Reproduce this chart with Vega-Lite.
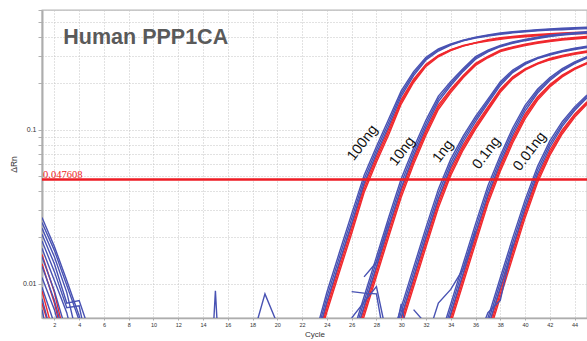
{
"$schema": "https://vega.github.io/schema/vega-lite/v6.json",
"width": 545, "height": 308,
"autosize": "none",
"padding": {"left": 42, "top": 10, "right": 0, "bottom": 23},
"background": "white",
"config": {"view": {"stroke": "#b8b8b8", "strokeWidth": 1.3}, "font": "Liberation Sans"},
"datasets": {
"curves": [
{"id":"100R1","g":"r","c":23,"v":0.0038},{"id":"100R1","g":"r","c":24,"v":0.0074},{"id":"100R1","g":"r","c":25,"v":0.01335},{"id":"100R1","g":"r","c":26,"v":0.0239},{"id":"100R1","g":"r","c":27,"v":0.0432},{"id":"100R1","g":"r","c":28,"v":0.0673},{"id":"100R1","g":"r","c":29,"v":0.1019},{"id":"100R1","g":"r","c":30,"v":0.157},{"id":"100R1","g":"r","c":31,"v":0.213},{"id":"100R1","g":"r","c":32,"v":0.267},{"id":"100R1","g":"r","c":33,"v":0.305},{"id":"100R1","g":"r","c":34,"v":0.332},{"id":"100R1","g":"r","c":35,"v":0.353},{"id":"100R1","g":"r","c":36,"v":0.368},{"id":"100R1","g":"r","c":37,"v":0.385},{"id":"100R1","g":"r","c":38,"v":0.396},{"id":"100R1","g":"r","c":39,"v":0.404},{"id":"100R1","g":"r","c":40,"v":0.411},{"id":"100R1","g":"r","c":41,"v":0.416},{"id":"100R1","g":"r","c":42,"v":0.421},{"id":"100R1","g":"r","c":43,"v":0.425},{"id":"100R1","g":"r","c":44,"v":0.429},{"id":"100R1","g":"r","c":45,"v":0.431},
{"id":"100R2","g":"r","c":23,"v":0.0036},{"id":"100R2","g":"r","c":24,"v":0.00697},{"id":"100R2","g":"r","c":25,"v":0.01258},{"id":"100R2","g":"r","c":26,"v":0.02253},{"id":"100R2","g":"r","c":27,"v":0.041},{"id":"100R2","g":"r","c":28,"v":0.0644},{"id":"100R2","g":"r","c":29,"v":0.0974},{"id":"100R2","g":"r","c":30,"v":0.152},{"id":"100R2","g":"r","c":31,"v":0.208},{"id":"100R2","g":"r","c":32,"v":0.263},{"id":"100R2","g":"r","c":33,"v":0.302},{"id":"100R2","g":"r","c":34,"v":0.33},{"id":"100R2","g":"r","c":35,"v":0.351},{"id":"100R2","g":"r","c":36,"v":0.367},{"id":"100R2","g":"r","c":37,"v":0.381},{"id":"100R2","g":"r","c":38,"v":0.392},{"id":"100R2","g":"r","c":39,"v":0.4},{"id":"100R2","g":"r","c":40,"v":0.406},{"id":"100R2","g":"r","c":41,"v":0.412},{"id":"100R2","g":"r","c":42,"v":0.417},{"id":"100R2","g":"r","c":43,"v":0.42},{"id":"100R2","g":"r","c":44,"v":0.424},{"id":"100R2","g":"r","c":45,"v":0.427},
{"id":"100R3","g":"r","c":23,"v":0.0034},{"id":"100R3","g":"r","c":24,"v":0.00657},{"id":"100R3","g":"r","c":25,"v":0.01185},{"id":"100R3","g":"r","c":26,"v":0.02123},{"id":"100R3","g":"r","c":27,"v":0.039},{"id":"100R3","g":"r","c":28,"v":0.0616},{"id":"100R3","g":"r","c":29,"v":0.0933},{"id":"100R3","g":"r","c":30,"v":0.147},{"id":"100R3","g":"r","c":31,"v":0.203},{"id":"100R3","g":"r","c":32,"v":0.258},{"id":"100R3","g":"r","c":33,"v":0.298},{"id":"100R3","g":"r","c":34,"v":0.327},{"id":"100R3","g":"r","c":35,"v":0.35},{"id":"100R3","g":"r","c":36,"v":0.366},{"id":"100R3","g":"r","c":37,"v":0.377},{"id":"100R3","g":"r","c":38,"v":0.387},{"id":"100R3","g":"r","c":39,"v":0.396},{"id":"100R3","g":"r","c":40,"v":0.402},{"id":"100R3","g":"r","c":41,"v":0.408},{"id":"100R3","g":"r","c":42,"v":0.412},{"id":"100R3","g":"r","c":43,"v":0.416},{"id":"100R3","g":"r","c":44,"v":0.42},{"id":"100R3","g":"r","c":45,"v":0.422},
{"id":"10R1","g":"r","c":26,"v":0.00381},{"id":"10R1","g":"r","c":27,"v":0.00692},{"id":"10R1","g":"r","c":28,"v":0.01257},{"id":"10R1","g":"r","c":29,"v":0.02282},{"id":"10R1","g":"r","c":30,"v":0.0407},{"id":"10R1","g":"r","c":31,"v":0.0655},{"id":"10R1","g":"r","c":32,"v":0.1002},{"id":"10R1","g":"r","c":33,"v":0.1453},{"id":"10R1","g":"r","c":34,"v":0.1836},{"id":"10R1","g":"r","c":35,"v":0.2256},{"id":"10R1","g":"r","c":36,"v":0.2701},{"id":"10R1","g":"r","c":37,"v":0.3003},{"id":"10R1","g":"r","c":38,"v":0.329},{"id":"10R1","g":"r","c":39,"v":0.3459},{"id":"10R1","g":"r","c":40,"v":0.36},{"id":"10R1","g":"r","c":41,"v":0.3722},{"id":"10R1","g":"r","c":42,"v":0.3826},{"id":"10R1","g":"r","c":43,"v":0.391},{"id":"10R1","g":"r","c":44,"v":0.3976},{"id":"10R1","g":"r","c":45,"v":0.4033},
{"id":"10R2","g":"r","c":26,"v":0.00359},{"id":"10R2","g":"r","c":27,"v":0.00652},{"id":"10R2","g":"r","c":28,"v":0.01185},{"id":"10R2","g":"r","c":29,"v":0.02151},{"id":"10R2","g":"r","c":30,"v":0.0386},{"id":"10R2","g":"r","c":31,"v":0.0626},{"id":"10R2","g":"r","c":32,"v":0.0963},{"id":"10R2","g":"r","c":33,"v":0.1406},{"id":"10R2","g":"r","c":34,"v":0.1792},{"id":"10R2","g":"r","c":35,"v":0.2217},{"id":"10R2","g":"r","c":36,"v":0.266},{"id":"10R2","g":"r","c":37,"v":0.2971},{"id":"10R2","g":"r","c":38,"v":0.3255},{"id":"10R2","g":"r","c":39,"v":0.3422},{"id":"10R2","g":"r","c":40,"v":0.3562},{"id":"10R2","g":"r","c":41,"v":0.3683},{"id":"10R2","g":"r","c":42,"v":0.3785},{"id":"10R2","g":"r","c":43,"v":0.3869},{"id":"10R2","g":"r","c":44,"v":0.3934},{"id":"10R2","g":"r","c":45,"v":0.399},
{"id":"10R3","g":"r","c":26,"v":0.00338},{"id":"10R3","g":"r","c":27,"v":0.00614},{"id":"10R3","g":"r","c":28,"v":0.01117},{"id":"10R3","g":"r","c":29,"v":0.02027},{"id":"10R3","g":"r","c":30,"v":0.0365},{"id":"10R3","g":"r","c":31,"v":0.0598},{"id":"10R3","g":"r","c":32,"v":0.0922},{"id":"10R3","g":"r","c":33,"v":0.1356},{"id":"10R3","g":"r","c":34,"v":0.1746},{"id":"10R3","g":"r","c":35,"v":0.2176},{"id":"10R3","g":"r","c":36,"v":0.2616},{"id":"10R3","g":"r","c":37,"v":0.2938},{"id":"10R3","g":"r","c":38,"v":0.322},{"id":"10R3","g":"r","c":39,"v":0.3386},{"id":"10R3","g":"r","c":40,"v":0.3524},{"id":"10R3","g":"r","c":41,"v":0.3643},{"id":"10R3","g":"r","c":42,"v":0.3744},{"id":"10R3","g":"r","c":43,"v":0.3827},{"id":"10R3","g":"r","c":44,"v":0.3892},{"id":"10R3","g":"r","c":45,"v":0.3947},
{"id":"1R1","g":"r","c":29,"v":0.00325},{"id":"1R1","g":"r","c":30,"v":0.00591},{"id":"1R1","g":"r","c":31,"v":0.01074},{"id":"1R1","g":"r","c":32,"v":0.01953},{"id":"1R1","g":"r","c":33,"v":0.0348},{"id":"1R1","g":"r","c":34,"v":0.0555},{"id":"1R1","g":"r","c":35,"v":0.0796},{"id":"1R1","g":"r","c":36,"v":0.1076},{"id":"1R1","g":"r","c":37,"v":0.1407},{"id":"1R1","g":"r","c":38,"v":0.1835},{"id":"1R1","g":"r","c":39,"v":0.2213},{"id":"1R1","g":"r","c":40,"v":0.2491},{"id":"1R1","g":"r","c":41,"v":0.2707},{"id":"1R1","g":"r","c":42,"v":0.2905},{"id":"1R1","g":"r","c":43,"v":0.3043},{"id":"1R1","g":"r","c":44,"v":0.3158},{"id":"1R1","g":"r","c":45,"v":0.3252},
{"id":"1R2","g":"r","c":29,"v":0.00306},{"id":"1R2","g":"r","c":30,"v":0.00557},{"id":"1R2","g":"r","c":31,"v":0.01012},{"id":"1R2","g":"r","c":32,"v":0.0184},{"id":"1R2","g":"r","c":33,"v":0.033},{"id":"1R2","g":"r","c":34,"v":0.0529},{"id":"1R2","g":"r","c":35,"v":0.0767},{"id":"1R2","g":"r","c":36,"v":0.1042},{"id":"1R2","g":"r","c":37,"v":0.1369},{"id":"1R2","g":"r","c":38,"v":0.1793},{"id":"1R2","g":"r","c":39,"v":0.2179},{"id":"1R2","g":"r","c":40,"v":0.2467},{"id":"1R2","g":"r","c":41,"v":0.2689},{"id":"1R2","g":"r","c":42,"v":0.2874},{"id":"1R2","g":"r","c":43,"v":0.301},{"id":"1R2","g":"r","c":44,"v":0.3125},{"id":"1R2","g":"r","c":45,"v":0.3218},
{"id":"1R3","g":"r","c":29,"v":0.00288},{"id":"1R3","g":"r","c":30,"v":0.00525},{"id":"1R3","g":"r","c":31,"v":0.00954},{"id":"1R3","g":"r","c":32,"v":0.01734},{"id":"1R3","g":"r","c":33,"v":0.0312},{"id":"1R3","g":"r","c":34,"v":0.0506},{"id":"1R3","g":"r","c":35,"v":0.0739},{"id":"1R3","g":"r","c":36,"v":0.1009},{"id":"1R3","g":"r","c":37,"v":0.1335},{"id":"1R3","g":"r","c":38,"v":0.1753},{"id":"1R3","g":"r","c":39,"v":0.2143},{"id":"1R3","g":"r","c":40,"v":0.244},{"id":"1R3","g":"r","c":41,"v":0.2669},{"id":"1R3","g":"r","c":42,"v":0.2843},{"id":"1R3","g":"r","c":43,"v":0.2978},{"id":"1R3","g":"r","c":44,"v":0.3091},{"id":"1R3","g":"r","c":45,"v":0.3183},
{"id":"01R1","g":"r","c":33,"v":0.00343},{"id":"01R1","g":"r","c":34,"v":0.00622},{"id":"01R1","g":"r","c":35,"v":0.01133},{"id":"01R1","g":"r","c":36,"v":0.02059},{"id":"01R1","g":"r","c":37,"v":0.0368},{"id":"01R1","g":"r","c":38,"v":0.0588},{"id":"01R1","g":"r","c":39,"v":0.0892},{"id":"01R1","g":"r","c":40,"v":0.1263},{"id":"01R1","g":"r","c":41,"v":0.1634},{"id":"01R1","g":"r","c":42,"v":0.1971},{"id":"01R1","g":"r","c":43,"v":0.2267},{"id":"01R1","g":"r","c":44,"v":0.252},{"id":"01R1","g":"r","c":45,"v":0.2734},
{"id":"01R2","g":"r","c":33,"v":0.00323},{"id":"01R2","g":"r","c":34,"v":0.00587},{"id":"01R2","g":"r","c":35,"v":0.01068},{"id":"01R2","g":"r","c":36,"v":0.01941},{"id":"01R2","g":"r","c":37,"v":0.0349},{"id":"01R2","g":"r","c":38,"v":0.0562},{"id":"01R2","g":"r","c":39,"v":0.0855},{"id":"01R2","g":"r","c":40,"v":0.1222},{"id":"01R2","g":"r","c":41,"v":0.1595},{"id":"01R2","g":"r","c":42,"v":0.1937},{"id":"01R2","g":"r","c":43,"v":0.2237},{"id":"01R2","g":"r","c":44,"v":0.2495},{"id":"01R2","g":"r","c":45,"v":0.2714},
{"id":"01R3","g":"r","c":33,"v":0.00304},{"id":"01R3","g":"r","c":34,"v":0.00553},{"id":"01R3","g":"r","c":35,"v":0.01006},{"id":"01R3","g":"r","c":36,"v":0.01829},{"id":"01R3","g":"r","c":37,"v":0.0331},{"id":"01R3","g":"r","c":38,"v":0.0538},{"id":"01R3","g":"r","c":39,"v":0.0821},{"id":"01R3","g":"r","c":40,"v":0.1179},{"id":"01R3","g":"r","c":41,"v":0.1554},{"id":"01R3","g":"r","c":42,"v":0.19},{"id":"01R3","g":"r","c":43,"v":0.2208},{"id":"01R3","g":"r","c":44,"v":0.2468},{"id":"01R3","g":"r","c":45,"v":0.269},
{"id":"001R1","g":"r","c":36,"v":0.0028},{"id":"001R1","g":"r","c":37,"v":0.00505},{"id":"001R1","g":"r","c":38,"v":0.0092},{"id":"001R1","g":"r","c":39,"v":0.01669},{"id":"001R1","g":"r","c":40,"v":0.0298},{"id":"001R1","g":"r","c":41,"v":0.0496},{"id":"001R1","g":"r","c":42,"v":0.0737},{"id":"001R1","g":"r","c":43,"v":0.0998},{"id":"001R1","g":"r","c":44,"v":0.1261},{"id":"001R1","g":"r","c":45,"v":0.152},
{"id":"001R2","g":"r","c":36,"v":0.00264},{"id":"001R2","g":"r","c":37,"v":0.00476},{"id":"001R2","g":"r","c":38,"v":0.00867},{"id":"001R2","g":"r","c":39,"v":0.01573},{"id":"001R2","g":"r","c":40,"v":0.0283},{"id":"001R2","g":"r","c":41,"v":0.0474},{"id":"001R2","g":"r","c":42,"v":0.0709},{"id":"001R2","g":"r","c":43,"v":0.097},{"id":"001R2","g":"r","c":44,"v":0.1232},{"id":"001R2","g":"r","c":45,"v":0.1493},
{"id":"001R3","g":"r","c":36,"v":0.00248},{"id":"001R3","g":"r","c":37,"v":0.00449},{"id":"001R3","g":"r","c":38,"v":0.00817},{"id":"001R3","g":"r","c":39,"v":0.01482},{"id":"001R3","g":"r","c":40,"v":0.0268},{"id":"001R3","g":"r","c":41,"v":0.0453},{"id":"001R3","g":"r","c":42,"v":0.0682},{"id":"001R3","g":"r","c":43,"v":0.094},{"id":"001R3","g":"r","c":44,"v":0.1205},{"id":"001R3","g":"r","c":45,"v":0.1465},
{"id":"s13","g":"r","c":1,"v":0.0155},{"id":"s13","g":"r","c":2,"v":0.0088},{"id":"s13","g":"r","c":3,"v":0.004},
{"id":"s14","g":"r","c":1,"v":0.0135},{"id":"s14","g":"r","c":2,"v":0.0075},{"id":"s14","g":"r","c":3,"v":0.0035},
{"id":"s15","g":"r","c":1,"v":0.009},{"id":"s15","g":"r","c":2,"v":0.0045},
{"id":"s16","g":"r","c":1,"v":0.0075},{"id":"s16","g":"r","c":2,"v":0.004},
{"id":"100B1","g":"b","c":23,"v":0.0039},{"id":"100B1","g":"b","c":24,"v":0.00763},{"id":"100B1","g":"b","c":25,"v":0.01378},{"id":"100B1","g":"b","c":26,"v":0.02467},{"id":"100B1","g":"b","c":27,"v":0.0448},{"id":"100B1","g":"b","c":28,"v":0.0702},{"id":"100B1","g":"b","c":29,"v":0.1063},{"id":"100B1","g":"b","c":30,"v":0.165},{"id":"100B1","g":"b","c":31,"v":0.225},{"id":"100B1","g":"b","c":32,"v":0.284},{"id":"100B1","g":"b","c":33,"v":0.325},{"id":"100B1","g":"b","c":34,"v":0.355},{"id":"100B1","g":"b","c":35,"v":0.378},{"id":"100B1","g":"b","c":36,"v":0.395},{"id":"100B1","g":"b","c":37,"v":0.406},{"id":"100B1","g":"b","c":38,"v":0.417},{"id":"100B1","g":"b","c":39,"v":0.426},{"id":"100B1","g":"b","c":40,"v":0.433},{"id":"100B1","g":"b","c":41,"v":0.439},{"id":"100B1","g":"b","c":42,"v":0.444},{"id":"100B1","g":"b","c":43,"v":0.447},{"id":"100B1","g":"b","c":44,"v":0.451},{"id":"100B1","g":"b","c":45,"v":0.454},
{"id":"100B2","g":"b","c":23,"v":0.0042},{"id":"100B2","g":"b","c":24,"v":0.0082},{"id":"100B2","g":"b","c":25,"v":0.0148},{"id":"100B2","g":"b","c":26,"v":0.0265},{"id":"100B2","g":"b","c":27,"v":0.0476},{"id":"100B2","g":"b","c":28,"v":0.074},{"id":"100B2","g":"b","c":29,"v":0.112},{"id":"100B2","g":"b","c":30,"v":0.172},{"id":"100B2","g":"b","c":31,"v":0.232},{"id":"100B2","g":"b","c":32,"v":0.29},{"id":"100B2","g":"b","c":33,"v":0.33},{"id":"100B2","g":"b","c":34,"v":0.358},{"id":"100B2","g":"b","c":35,"v":0.38},{"id":"100B2","g":"b","c":36,"v":0.397},{"id":"100B2","g":"b","c":37,"v":0.41},{"id":"100B2","g":"b","c":38,"v":0.421},{"id":"100B2","g":"b","c":39,"v":0.43},{"id":"100B2","g":"b","c":40,"v":0.437},{"id":"100B2","g":"b","c":41,"v":0.443},{"id":"100B2","g":"b","c":42,"v":0.448},{"id":"100B2","g":"b","c":43,"v":0.452},{"id":"100B2","g":"b","c":44,"v":0.456},{"id":"100B2","g":"b","c":45,"v":0.459},
{"id":"100B3","g":"b","c":23,"v":0.0045},{"id":"100B3","g":"b","c":24,"v":0.00881},{"id":"100B3","g":"b","c":25,"v":0.0159},{"id":"100B3","g":"b","c":26,"v":0.02846},{"id":"100B3","g":"b","c":27,"v":0.0506},{"id":"100B3","g":"b","c":28,"v":0.078},{"id":"100B3","g":"b","c":29,"v":0.118},{"id":"100B3","g":"b","c":30,"v":0.179},{"id":"100B3","g":"b","c":31,"v":0.239},{"id":"100B3","g":"b","c":32,"v":0.296},{"id":"100B3","g":"b","c":33,"v":0.335},{"id":"100B3","g":"b","c":34,"v":0.361},{"id":"100B3","g":"b","c":35,"v":0.382},{"id":"100B3","g":"b","c":36,"v":0.399},{"id":"100B3","g":"b","c":37,"v":0.414},{"id":"100B3","g":"b","c":38,"v":0.425},{"id":"100B3","g":"b","c":39,"v":0.434},{"id":"100B3","g":"b","c":40,"v":0.441},{"id":"100B3","g":"b","c":41,"v":0.447},{"id":"100B3","g":"b","c":42,"v":0.452},{"id":"100B3","g":"b","c":43,"v":0.457},{"id":"100B3","g":"b","c":44,"v":0.461},{"id":"100B3","g":"b","c":45,"v":0.464},
{"id":"10B1","g":"b","c":26,"v":0.00393},{"id":"10B1","g":"b","c":27,"v":0.00714},{"id":"10B1","g":"b","c":28,"v":0.01298},{"id":"10B1","g":"b","c":29,"v":0.02355},{"id":"10B1","g":"b","c":30,"v":0.0421},{"id":"10B1","g":"b","c":31,"v":0.0682},{"id":"10B1","g":"b","c":32,"v":0.1045},{"id":"10B1","g":"b","c":33,"v":0.1525},{"id":"10B1","g":"b","c":34,"v":0.194},{"id":"10B1","g":"b","c":35,"v":0.2396},{"id":"10B1","g":"b","c":36,"v":0.2874},{"id":"10B1","g":"b","c":37,"v":0.3205},{"id":"10B1","g":"b","c":38,"v":0.3465},{"id":"10B1","g":"b","c":39,"v":0.3643},{"id":"10B1","g":"b","c":40,"v":0.3792},{"id":"10B1","g":"b","c":41,"v":0.392},{"id":"10B1","g":"b","c":42,"v":0.4029},{"id":"10B1","g":"b","c":43,"v":0.4118},{"id":"10B1","g":"b","c":44,"v":0.4188},{"id":"10B1","g":"b","c":45,"v":0.4247},
{"id":"10B2","g":"b","c":26,"v":0.00422},{"id":"10B2","g":"b","c":27,"v":0.00767},{"id":"10B2","g":"b","c":28,"v":0.01394},{"id":"10B2","g":"b","c":29,"v":0.0253},{"id":"10B2","g":"b","c":30,"v":0.045},{"id":"10B2","g":"b","c":31,"v":0.0721},{"id":"10B2","g":"b","c":32,"v":0.11},{"id":"10B2","g":"b","c":33,"v":0.159},{"id":"10B2","g":"b","c":34,"v":0.2},{"id":"10B2","g":"b","c":35,"v":0.245},{"id":"10B2","g":"b","c":36,"v":0.293},{"id":"10B2","g":"b","c":37,"v":0.325},{"id":"10B2","g":"b","c":38,"v":0.35},{"id":"10B2","g":"b","c":39,"v":0.368},{"id":"10B2","g":"b","c":40,"v":0.383},{"id":"10B2","g":"b","c":41,"v":0.396},{"id":"10B2","g":"b","c":42,"v":0.407},{"id":"10B2","g":"b","c":43,"v":0.416},{"id":"10B2","g":"b","c":44,"v":0.423},{"id":"10B2","g":"b","c":45,"v":0.429},
{"id":"10B3","g":"b","c":26,"v":0.00453},{"id":"10B3","g":"b","c":27,"v":0.00824},{"id":"10B3","g":"b","c":28,"v":0.01497},{"id":"10B3","g":"b","c":29,"v":0.02717},{"id":"10B3","g":"b","c":30,"v":0.0481},{"id":"10B3","g":"b","c":31,"v":0.0762},{"id":"10B3","g":"b","c":32,"v":0.1157},{"id":"10B3","g":"b","c":33,"v":0.1657},{"id":"10B3","g":"b","c":34,"v":0.206},{"id":"10B3","g":"b","c":35,"v":0.2504},{"id":"10B3","g":"b","c":36,"v":0.2989},{"id":"10B3","g":"b","c":37,"v":0.3296},{"id":"10B3","g":"b","c":38,"v":0.3535},{"id":"10B3","g":"b","c":39,"v":0.3717},{"id":"10B3","g":"b","c":40,"v":0.3868},{"id":"10B3","g":"b","c":41,"v":0.4},{"id":"10B3","g":"b","c":42,"v":0.4111},{"id":"10B3","g":"b","c":43,"v":0.4202},{"id":"10B3","g":"b","c":44,"v":0.4272},{"id":"10B3","g":"b","c":45,"v":0.4333},
{"id":"1B1","g":"b","c":29,"v":0.00335},{"id":"1B1","g":"b","c":30,"v":0.0061},{"id":"1B1","g":"b","c":31,"v":0.01109},{"id":"1B1","g":"b","c":32,"v":0.02016},{"id":"1B1","g":"b","c":33,"v":0.036},{"id":"1B1","g":"b","c":34,"v":0.0577},{"id":"1B1","g":"b","c":35,"v":0.0834},{"id":"1B1","g":"b","c":36,"v":0.1131},{"id":"1B1","g":"b","c":37,"v":0.1485},{"id":"1B1","g":"b","c":38,"v":0.1943},{"id":"1B1","g":"b","c":39,"v":0.2354},{"id":"1B1","g":"b","c":40,"v":0.2661},{"id":"1B1","g":"b","c":41,"v":0.2897},{"id":"1B1","g":"b","c":42,"v":0.3059},{"id":"1B1","g":"b","c":43,"v":0.3205},{"id":"1B1","g":"b","c":44,"v":0.3326},{"id":"1B1","g":"b","c":45,"v":0.3425},
{"id":"1B2","g":"b","c":29,"v":0.0036},{"id":"1B2","g":"b","c":30,"v":0.00655},{"id":"1B2","g":"b","c":31,"v":0.01191},{"id":"1B2","g":"b","c":32,"v":0.02165},{"id":"1B2","g":"b","c":33,"v":0.0385},{"id":"1B2","g":"b","c":34,"v":0.061},{"id":"1B2","g":"b","c":35,"v":0.0872},{"id":"1B2","g":"b","c":36,"v":0.1176},{"id":"1B2","g":"b","c":37,"v":0.1533},{"id":"1B2","g":"b","c":38,"v":0.1997},{"id":"1B2","g":"b","c":39,"v":0.24},{"id":"1B2","g":"b","c":40,"v":0.2693},{"id":"1B2","g":"b","c":41,"v":0.292},{"id":"1B2","g":"b","c":42,"v":0.309},{"id":"1B2","g":"b","c":43,"v":0.3237},{"id":"1B2","g":"b","c":44,"v":0.336},{"id":"1B2","g":"b","c":45,"v":0.346},
{"id":"1B3","g":"b","c":29,"v":0.00387},{"id":"1B3","g":"b","c":30,"v":0.00703},{"id":"1B3","g":"b","c":31,"v":0.01279},{"id":"1B3","g":"b","c":32,"v":0.02325},{"id":"1B3","g":"b","c":33,"v":0.0412},{"id":"1B3","g":"b","c":34,"v":0.0645},{"id":"1B3","g":"b","c":35,"v":0.0911},{"id":"1B3","g":"b","c":36,"v":0.1222},{"id":"1B3","g":"b","c":37,"v":0.1582},{"id":"1B3","g":"b","c":38,"v":0.2053},{"id":"1B3","g":"b","c":39,"v":0.2448},{"id":"1B3","g":"b","c":40,"v":0.2728},{"id":"1B3","g":"b","c":41,"v":0.2943},{"id":"1B3","g":"b","c":42,"v":0.3121},{"id":"1B3","g":"b","c":43,"v":0.3269},{"id":"1B3","g":"b","c":44,"v":0.3394},{"id":"1B3","g":"b","c":45,"v":0.3495},
{"id":"01B1","g":"b","c":33,"v":0.00354},{"id":"01B1","g":"b","c":34,"v":0.00642},{"id":"01B1","g":"b","c":35,"v":0.01169},{"id":"01B1","g":"b","c":36,"v":0.02125},{"id":"01B1","g":"b","c":37,"v":0.0381},{"id":"01B1","g":"b","c":38,"v":0.0613},{"id":"01B1","g":"b","c":39,"v":0.093},{"id":"01B1","g":"b","c":40,"v":0.1325},{"id":"01B1","g":"b","c":41,"v":0.1727},{"id":"01B1","g":"b","c":42,"v":0.2093},{"id":"01B1","g":"b","c":43,"v":0.2417},{"id":"01B1","g":"b","c":44,"v":0.2691},{"id":"01B1","g":"b","c":45,"v":0.2923},
{"id":"01B2","g":"b","c":33,"v":0.0038},{"id":"01B2","g":"b","c":34,"v":0.0069},{"id":"01B2","g":"b","c":35,"v":0.01256},{"id":"01B2","g":"b","c":36,"v":0.02283},{"id":"01B2","g":"b","c":37,"v":0.0406},{"id":"01B2","g":"b","c":38,"v":0.0646},{"id":"01B2","g":"b","c":39,"v":0.0978},{"id":"01B2","g":"b","c":40,"v":0.1382},{"id":"01B2","g":"b","c":41,"v":0.178},{"id":"01B2","g":"b","c":42,"v":0.214},{"id":"01B2","g":"b","c":43,"v":0.2456},{"id":"01B2","g":"b","c":44,"v":0.2724},{"id":"01B2","g":"b","c":45,"v":0.2953},
{"id":"01B3","g":"b","c":33,"v":0.00408},{"id":"01B3","g":"b","c":34,"v":0.00741},{"id":"01B3","g":"b","c":35,"v":0.01349},{"id":"01B3","g":"b","c":36,"v":0.02452},{"id":"01B3","g":"b","c":37,"v":0.0433},{"id":"01B3","g":"b","c":38,"v":0.0681},{"id":"01B3","g":"b","c":39,"v":0.1028},{"id":"01B3","g":"b","c":40,"v":0.144},{"id":"01B3","g":"b","c":41,"v":0.1835},{"id":"01B3","g":"b","c":42,"v":0.2187},{"id":"01B3","g":"b","c":43,"v":0.2498},{"id":"01B3","g":"b","c":44,"v":0.2759},{"id":"01B3","g":"b","c":45,"v":0.2983},
{"id":"001B1","g":"b","c":36,"v":0.00289},{"id":"001B1","g":"b","c":37,"v":0.00521},{"id":"001B1","g":"b","c":38,"v":0.0095},{"id":"001B1","g":"b","c":39,"v":0.01722},{"id":"001B1","g":"b","c":40,"v":0.0309},{"id":"001B1","g":"b","c":41,"v":0.0517},{"id":"001B1","g":"b","c":42,"v":0.0771},{"id":"001B1","g":"b","c":43,"v":0.1052},{"id":"001B1","g":"b","c":44,"v":0.1335},{"id":"001B1","g":"b","c":45,"v":0.1614},
{"id":"001B2","g":"b","c":36,"v":0.0031},{"id":"001B2","g":"b","c":37,"v":0.0056},{"id":"001B2","g":"b","c":38,"v":0.0102},{"id":"001B2","g":"b","c":39,"v":0.0185},{"id":"001B2","g":"b","c":40,"v":0.0329},{"id":"001B2","g":"b","c":41,"v":0.0546},{"id":"001B2","g":"b","c":42,"v":0.0808},{"id":"001B2","g":"b","c":43,"v":0.109},{"id":"001B2","g":"b","c":44,"v":0.1372},{"id":"001B2","g":"b","c":45,"v":0.165},
{"id":"001B3","g":"b","c":36,"v":0.00333},{"id":"001B3","g":"b","c":37,"v":0.00601},{"id":"001B3","g":"b","c":38,"v":0.01095},{"id":"001B3","g":"b","c":39,"v":0.01987},{"id":"001B3","g":"b","c":40,"v":0.0351},{"id":"001B3","g":"b","c":41,"v":0.0577},{"id":"001B3","g":"b","c":42,"v":0.0847},{"id":"001B3","g":"b","c":43,"v":0.1129},{"id":"001B3","g":"b","c":44,"v":0.141},{"id":"001B3","g":"b","c":45,"v":0.1686},
{"id":"s1","g":"b","c":1,"v":0.027},{"id":"s1","g":"b","c":2,"v":0.0175},{"id":"s1","g":"b","c":3,"v":0.0105},{"id":"s1","g":"b","c":4,"v":0.0062},{"id":"s1","g":"b","c":5,"v":0.003},
{"id":"s2","g":"b","c":1,"v":0.025},{"id":"s2","g":"b","c":2,"v":0.0165},{"id":"s2","g":"b","c":3,"v":0.0098},{"id":"s2","g":"b","c":4,"v":0.0058},
{"id":"s3","g":"b","c":1,"v":0.023},{"id":"s3","g":"b","c":2,"v":0.015},{"id":"s3","g":"b","c":3,"v":0.0088},{"id":"s3","g":"b","c":4,"v":0.004},
{"id":"s4","g":"b","c":1,"v":0.021},{"id":"s4","g":"b","c":2,"v":0.0135},{"id":"s4","g":"b","c":3,"v":0.0075},{"id":"s4","g":"b","c":4,"v":0.0078},{"id":"s4","g":"b","c":5,"v":0.0045},
{"id":"s5","g":"b","c":1,"v":0.019},{"id":"s5","g":"b","c":2,"v":0.012},{"id":"s5","g":"b","c":3,"v":0.007},{"id":"s5","g":"b","c":4,"v":0.0072},{"id":"s5","g":"b","c":5,"v":0.003},
{"id":"s6","g":"b","c":1,"v":0.017},{"id":"s6","g":"b","c":2,"v":0.0105},{"id":"s6","g":"b","c":3,"v":0.0065},{"id":"s6","g":"b","c":4,"v":0.003},
{"id":"s7","g":"b","c":1,"v":0.015},{"id":"s7","g":"b","c":2,"v":0.009},{"id":"s7","g":"b","c":3,"v":0.0048},
{"id":"s8","g":"b","c":1,"v":0.013},{"id":"s8","g":"b","c":2,"v":0.0078},{"id":"s8","g":"b","c":3,"v":0.004},
{"id":"s9","g":"b","c":1,"v":0.011},{"id":"s9","g":"b","c":2,"v":0.0068},{"id":"s9","g":"b","c":3,"v":0.0035},
{"id":"s10","g":"b","c":1,"v":0.0095},{"id":"s10","g":"b","c":2,"v":0.0055},
{"id":"s11","g":"b","c":1,"v":0.008},{"id":"s11","g":"b","c":2,"v":0.004},
{"id":"s12","g":"b","c":1,"v":0.0068},{"id":"s12","g":"b","c":2,"v":0.003},
{"id":"n1","g":"b","c":14,"v":0.0003},{"id":"n1","g":"b","c":15,"v":0.009},{"id":"n1","g":"b","c":16,"v":0.0003},
{"id":"n2","g":"b","c":18,"v":0.0045},{"id":"n2","g":"b","c":19,"v":0.0086},{"id":"n2","g":"b","c":20,"v":0.0055},{"id":"n2","g":"b","c":21,"v":0.002},
{"id":"n3","g":"b","c":26,"v":0.0089},{"id":"n3","g":"b","c":27,"v":0.0087},{"id":"n3","g":"b","c":28,"v":0.0086},{"id":"n3","g":"b","c":29,"v":0.003},
{"id":"n4","g":"b","c":27,"v":0.0111},{"id":"n4","g":"b","c":28,"v":0.0138},{"id":"n4","g":"b","c":29,"v":0.0253},
{"id":"n5","g":"b","c":29,"v":0.003},{"id":"n5","g":"b","c":30,"v":0.0074},{"id":"n5","g":"b","c":31,"v":0.003},
{"id":"n6","g":"b","c":31,"v":0.0068},{"id":"n6","g":"b","c":32,"v":0.0055},{"id":"n6","g":"b","c":33,"v":0.002},
{"id":"n7","g":"b","c":32,"v":0.0042},{"id":"n7","g":"b","c":33,"v":0.0075},{"id":"n7","g":"b","c":34,"v":0.0092},{"id":"n7","g":"b","c":35,"v":0.0125},{"id":"n7","g":"b","c":36,"v":0.022},
{"id":"n8","g":"b","c":36,"v":0.004},{"id":"n8","g":"b","c":37,"v":0.0065},{"id":"n8","g":"b","c":38,"v":0.0078},{"id":"n8","g":"b","c":39,"v":0.018},
{"id":"n9","g":"b","c":26,"v":0.006},{"id":"n9","g":"b","c":27,"v":0.0076},{"id":"n9","g":"b","c":28,"v":0.0096},{"id":"n9","g":"b","c":29,"v":0.004}
],
"labels": [
{"c":26.9,"v":0.082,"t":"100ng"},{"c":30.1,"v":0.0723,"t":"10ng"},{"c":33.4,"v":0.0723,"t":"1ng"},{"c":36.9,"v":0.0706,"t":"0.1ng"},{"c":40.4,"v":0.0723,"t":"0.01ng"}
]
},
"layer": [
{
"data": {"name": "curves"},
"mark": {"type": "line", "clip": true, "strokeWidth": 1.4},
"encoding": {
"x": {"field": "c", "type": "quantitative", "scale": {"domain": [1, 45], "nice": false, "zero": false},
"axis": {"values": [2,4,6,8,10,12,14,16,18,20,22,24,26,28,30,32,34,36,38,40,42,44], "tickCount": 60, "labelOverlap": false, "labelBound": false, "grid": true, "gridDash": [1,2], "gridColor": "#c4c4c4", "domainColor": "#adadad", "domainWidth": 1.5, "tickColor": "#aaaaaa", "tickSize": 2, "labelFontSize": 5.5, "labelColor": "#333333", "labelPadding": 2, "title": "Cycle", "titleFontSize": 8, "titleFontWeight": "normal", "titleColor": "#333333", "titlePadding": 3}},
"y": {"field": "v", "type": "quantitative", "scale": {"type": "log", "domain": [0.006, 0.6], "nice": false},
"axis": {"values": [0.01,0.02,0.03,0.04,0.05,0.06,0.07,0.08,0.09,0.1,0.2,0.3,0.4,0.5,0.6], "tickCount": 60, "labelExpr": "datum.value == 0.1 ? '0.1' : (datum.value == 0.01 ? '0.01' : '')", "labelOverlap": false, "grid": true, "gridDash": [1,2], "gridColor": "#c4c4c4", "domainColor": "#adadad", "domainWidth": 2, "tickColor": "#b0b0b0", "tickSize": 4, "labelFontSize": 7, "labelColor": "#333333", "labelPadding": 2, "title": "ΔRn", "titleFontSize": 8.5, "titleFontWeight": "normal", "titleColor": "#333333", "titlePadding": 4}},
"color": {"field": "g", "type": "nominal", "scale": {"domain": ["r", "b"], "range": ["#f0282d", "#4852b3"]}, "legend": null},
"detail": {"field": "id", "type": "nominal"}
}
},
{
"data": {"values": [{"t": 0.047608}]},
"mark": {"type": "rule", "color": "#ee1c24", "strokeWidth": 2.5},
"encoding": {"y": {"field": "t", "type": "quantitative"}}
},
{
"data": {"values": [{"c": 1, "v": 0.047608, "t": "0.047608"}]},
"mark": {"type": "text", "font": "Liberation Serif", "fontSize": 10.5, "color": "#ee1c24", "align": "left", "baseline": "alphabetic", "dx": 1, "dy": -1},
"encoding": {
"x": {"field": "c", "type": "quantitative"},
"y": {"field": "v", "type": "quantitative"},
"text": {"field": "t"}
}
},
{
"data": {"name": "labels"},
"mark": {"type": "text", "font": "Liberation Sans", "fontSize": 14.5, "color": "#111111", "angle": -53, "align": "center", "baseline": "middle"},
"encoding": {
"x": {"field": "c", "type": "quantitative"},
"y": {"field": "v", "type": "quantitative"},
"text": {"field": "t"}
}
},
{
"data": {"values": [{"c": 2.72, "v": 0.362, "t": "Human PPP1CA"}]},
"mark": {"type": "text", "font": "Liberation Sans", "fontSize": 21.5, "fontWeight": "bold", "color": "#5a5a5a", "align": "left", "baseline": "alphabetic"},
"encoding": {
"x": {"field": "c", "type": "quantitative"},
"y": {"field": "v", "type": "quantitative"},
"text": {"field": "t"}
}
}
]
}
